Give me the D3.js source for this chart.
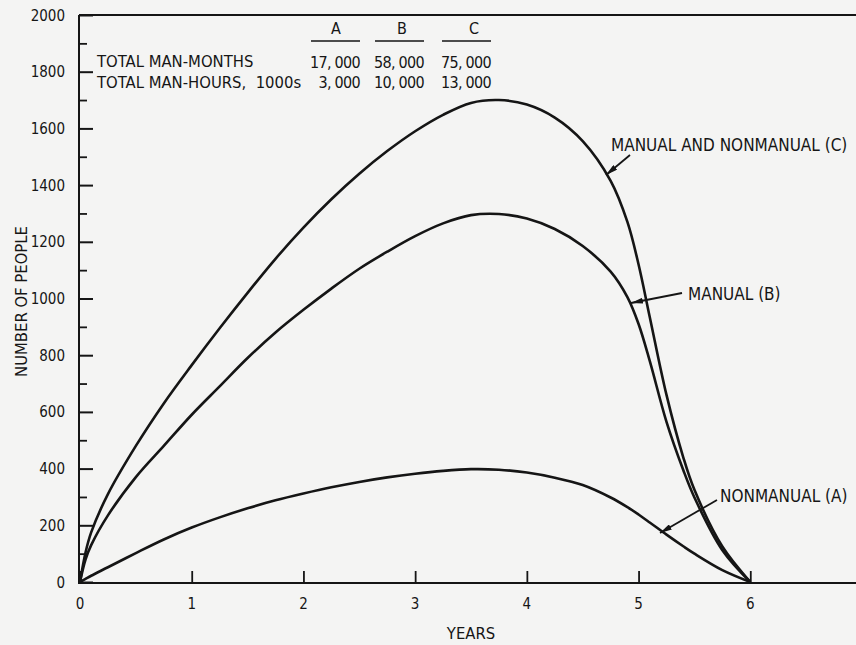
<!DOCTYPE html>
<html>
<head>
<meta charset="utf-8">
<script src="https://cdn.jsdelivr.net/npm/d3@7/dist/d3.min.js"></script>
<style>
  html, body { margin: 0; padding: 0; background: #f4f4f3; }
  svg { display: block; }
  text { font-family: "DejaVu Sans Condensed", "DejaVu Sans", sans-serif; fill: #161616; }
</style>
</head>
<body>
<svg id="chart" width="856" height="645"></svg>
<script>
// Work force build-up over the construction period
const years = [0, 0.05, 0.1, 0.25, 0.5, 0.75, 1, 1.25, 1.5, 1.75, 2, 2.25, 2.5, 2.75, 3,
               3.25, 3.5, 3.75, 4, 4.25, 4.5, 4.75, 4.9, 5, 5.1, 5.25, 5.4, 5.5, 5.75, 6];
const nonmanual = [0, 11, 22, 52, 102, 150, 192, 228, 260, 288, 312, 334, 353, 369, 382,
                   392, 398, 396, 386, 368, 342, 298, 264, 238, 210, 167, 126, 100, 42, 0];
const manual = [0, 80, 130, 235, 370, 480, 590, 690, 790, 880, 960, 1035, 1105, 1165, 1220,
                1265, 1294, 1298, 1282, 1245, 1185, 1095, 1005, 910, 780, 565, 395, 298, 112, 0];
const combined = [0, 105, 175, 310, 480, 630, 765, 895, 1020, 1140, 1250, 1350, 1440, 1520, 1590,
                  1648, 1690, 1700, 1684, 1638, 1555, 1415, 1270, 1120, 935, 660, 440, 325, 125, 0];

const seriesNames = ["NONMANUAL (A)", "MANUAL (B)", "MANUAL AND NONMANUAL (C)"];

// Summary table
const tableColumns = ["A", "B", "C"];
const tableRows = ["TOTAL MAN-MONTHS", "TOTAL MAN-HOURS,  1000s"];
const manMonths = ["17, 000", "58, 000", "75, 000"];
const manHours = ["3, 000", "10, 000", "13, 000"];

const yTicks = [0, 200, 400, 600, 800, 1000, 1200, 1400, 1600, 1800, 2000];
const yMinorTicks = [100, 300, 500, 700, 900, 1100, 1300, 1500, 1700, 1900];
const xTicks = [0, 1, 2, 3, 4, 5, 6];

const svg = d3.select("#chart");
const W = 856, H = 645;
const plotLeft = 80, plotTop = 15, plotBottom = 582;

const x = d3.scaleLinear().domain([0, 7]).range([plotLeft, 862]);
const y = d3.scaleLinear().domain([0, 2000]).range([plotBottom, plotTop]);

const ink = "#151515";

// frame: top rule, left axis and base line
svg.append("line").attr("x1", plotLeft - 1).attr("x2", W).attr("y1", plotTop).attr("y2", plotTop)
  .attr("stroke", ink).attr("stroke-width", 2);

const yAxis = svg.append("g").attr("transform", `translate(${plotLeft - 1},0)`)
  .call(d3.axisRight(y).tickValues(yTicks).tickSize(14).tickFormat(""));
yAxis.select(".domain").attr("stroke", ink).attr("stroke-width", 2).attr("d", `M0,${plotTop}V${plotBottom + 1}`);
yAxis.selectAll(".tick line").attr("stroke", ink).attr("stroke-width", 2);

const yMinor = svg.append("g").attr("transform", `translate(${plotLeft - 1},0)`)
  .call(d3.axisRight(y).tickValues(yMinorTicks).tickSize(8).tickFormat(""));
yMinor.select(".domain").remove();
yMinor.selectAll(".tick line").attr("stroke", ink).attr("stroke-width", 1.8);

svg.append("g").selectAll("text").data(yTicks).join("text")
  .attr("x", 65).attr("y", d => y(d) + 5.5)
  .attr("text-anchor", "end").attr("font-size", 15)
  .text(d => d);

const xAxis = svg.append("g").attr("transform", `translate(0,${plotBottom + 1})`)
  .call(d3.axisTop(x).tickValues(xTicks).tickSize(12).tickFormat(""));
xAxis.select(".domain").attr("stroke", ink).attr("stroke-width", 2).attr("d", `M${plotLeft - 2},0H${W}`);
xAxis.selectAll(".tick line").attr("stroke", ink).attr("stroke-width", 1.8);

svg.append("g").selectAll("text").data(xTicks).join("text")
  .attr("x", d => x(d)).attr("y", 609)
  .attr("text-anchor", "middle").attr("font-size", 15)
  .text(d => d);

svg.append("text").attr("x", x(3.5)).attr("y", 639).attr("text-anchor", "middle")
  .attr("font-size", 16.5).text("YEARS");
svg.append("text").attr("transform", `translate(27,${(plotTop + plotBottom) / 2 + 3}) rotate(-90)`)
  .attr("text-anchor", "middle").attr("font-size", 16.5).text("NUMBER OF PEOPLE");

// curves
const line = d3.line().x((d, i) => x(years[i])).y(d => y(d)).curve(d3.curveCatmullRom.alpha(0.5));
[nonmanual, manual, combined].forEach(vals => {
  svg.append("path").attr("d", line(vals)).attr("fill", "none")
    .attr("stroke", ink).attr("stroke-width", 2.6).attr("stroke-linejoin", "round");
});

// summary table
svg.append("g").selectAll("text").data(tableRows).join("text")
  .attr("x", 97).attr("y", (d, i) => 67 + i * 20.5)
  .attr("font-size", 16.5).attr("xml:space", "preserve").text(d => d);

const colCenters = [336, 402, 474];
const colRight = [360, 424, 491];
svg.append("g").selectAll("text").data(tableColumns).join("text")
  .attr("x", (d, i) => colCenters[i]).attr("y", 34).attr("text-anchor", "middle")
  .attr("font-size", 16).text(d => d);
svg.append("g").selectAll("line").data(tableColumns).join("line")
  .attr("x1", (d, i) => colRight[i] - 49).attr("x2", (d, i) => colRight[i])
  .attr("y1", 41).attr("y2", 41).attr("stroke", ink).attr("stroke-width", 1.6);
svg.append("g").selectAll("text").data(manMonths).join("text")
  .attr("x", (d, i) => colRight[i]).attr("y", 67.5).attr("text-anchor", "end")
  .attr("font-size", 16).attr("letter-spacing", -0.7).attr("xml:space", "preserve").text(d => d);
svg.append("g").selectAll("text").data(manHours).join("text")
  .attr("x", (d, i) => colRight[i]).attr("y", 88).attr("text-anchor", "end")
  .attr("font-size", 16).attr("letter-spacing", -0.7).attr("xml:space", "preserve").text(d => d);

// curve labels with pointers
svg.append("defs").append("marker").attr("id", "head")
  .attr("viewBox", "0 0 12 6").attr("refX", 12).attr("refY", 3)
  .attr("markerWidth", 12).attr("markerHeight", 6).attr("markerUnits", "userSpaceOnUse")
  .attr("orient", "auto")
  .append("path").attr("d", "M0,0L12,3L0,6Z").attr("fill", ink);

const labelSpecs = [
  { name: seriesNames[2], tx: 611, ty: 151, from: [630, 155], to: [606, 175] },
  { name: seriesNames[1], tx: 688, ty: 300, from: [682, 293], to: [631, 303] },
  { name: seriesNames[0], tx: 720, ty: 502, from: [717, 500], to: [660, 533] }
];
labelSpecs.forEach(s => {
  svg.append("text").attr("x", s.tx).attr("y", s.ty).attr("font-size", 17).text(s.name);
  svg.append("line").attr("x1", s.from[0]).attr("y1", s.from[1])
    .attr("x2", s.to[0]).attr("y2", s.to[1])
    .attr("stroke", ink).attr("stroke-width", 1.8).attr("marker-end", "url(#head)");
});
</script>
</body>
</html>
